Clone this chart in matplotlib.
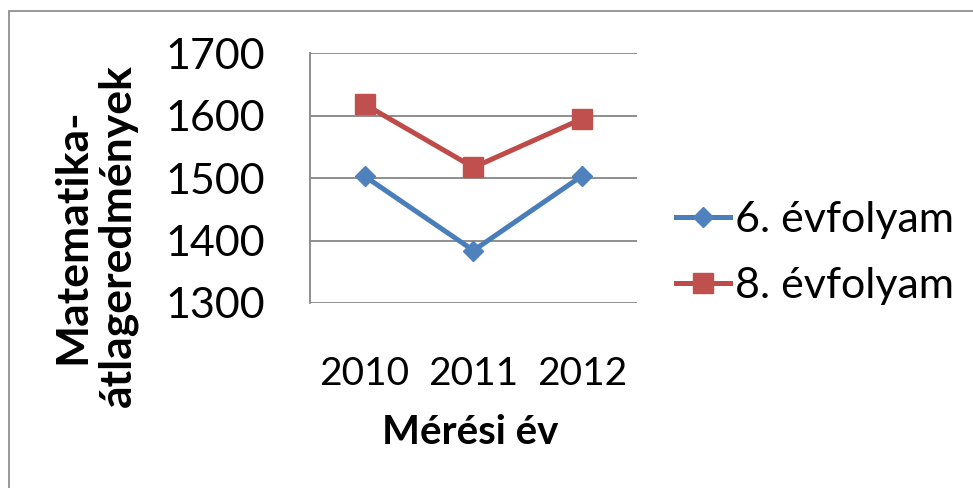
import matplotlib
matplotlib.use("Agg")
import matplotlib.pyplot as plt
from matplotlib.patches import Rectangle

years = ["2010", "2011", "2012"]
grade6 = [1503, 1384, 1504]
grade8 = [1618, 1517, 1595]
series_labels = ["6. évfolyam", "8. évfolyam"]
yticks = [1300, 1400, 1500, 1600, 1700]

plt.rcParams['font.family'] = ['Lato', 'DejaVu Sans']

W, H = 973, 488
fig = plt.figure(figsize=(W / 100, H / 100), dpi=100)
fig.patch.set_facecolor("white")

# outer chart border
fig.add_artist(Rectangle((8.5 / W, -0.1), 1.2, (H - 10.5) / H + 0.1,
                         transform=fig.transFigure, fill=False,
                         edgecolor="#868686", linewidth=1.2))

ax = fig.add_axes([310 / W, 1 - 303 / H, (637 - 310) / W, (303 - 53) / H])
x = list(range(len(years)))
ax.plot(x, grade6, color="#4A7EBB", linewidth=3.6, marker="D", markersize=9.7,
        markerfacecolor="#4F81BD", markeredgecolor="#4F81BD", label=series_labels[0],
        solid_joinstyle="round", zorder=3)
ax.plot(x, grade8, color="#BE4B48", linewidth=3.6, marker="s", markersize=14.4,
        markerfacecolor="#C0504D", markeredgecolor="#C0504D", label=series_labels[1],
        solid_joinstyle="round", zorder=3)

ax.set_xlim(-0.5, len(years) - 0.5)
ax.set_ylim(yticks[0], yticks[-1])
ax.set_yticks(yticks)
ax.set_yticklabels([str(t) for t in yticks])
ax.set_xticks(x)
ax.set_xticklabels(years)
ax.yaxis.grid(True, color="#868686", linewidth=1.3)
ax.set_axisbelow(True)
for s in ["top", "right", "bottom"]:
    ax.spines[s].set_visible(False)
ax.spines["left"].set_color("#868686")
ax.spines["left"].set_linewidth(1.3)
ax.tick_params(axis="y", length=0, pad=32, labelsize=31)
ax.tick_params(axis="x", length=0, pad=38, labelsize=28)

fig.text(95 / W, 1 - 236 / H, "Matematika-\nátlageredmények", rotation=90,
         ha="center", va="center", fontsize=32, fontweight="bold",
         multialignment="center", linespacing=1.15)
fig.text(470 / W, 1 - 433 / H, "Mérési év", ha="center", va="center",
         fontsize=29, fontweight="bold")

leg = ax.legend(loc="center left", bbox_to_anchor=(676 / W, 1 - 253 / H),
                bbox_transform=fig.transFigure, frameon=False, fontsize=31,
                handlelength=1.25, handletextpad=0.12, labelspacing=0.66,
                borderpad=0, borderaxespad=0)

fig.savefig("out.png", dpi=100, facecolor="white")
